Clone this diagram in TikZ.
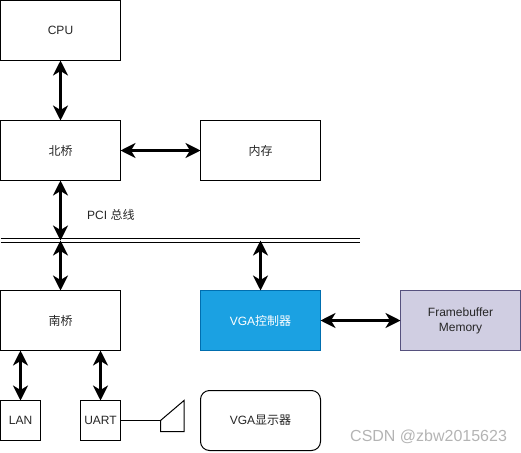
\documentclass[tikz,border=0pt]{standalone}
\usepackage{fontspec}
\usepackage{xcolor}
\setmainfont{Liberation Sans}
\newfontfamily\cjk{Noto Sans CJK SC}
\usetikzlibrary{arrows.meta, positioning}
\definecolor{vgaBlue}{HTML}{1BA1E2}
\definecolor{vgaEdge}{HTML}{006EAF}
\definecolor{fbPurple}{HTML}{D0CEE2}
\definecolor{fbEdge}{HTML}{56517E}
\definecolor{markGray}{HTML}{B4B4B4}

\begin{document}
\begin{tikzpicture}[
  x=1pt, y=-1pt,
  node distance=60pt and 80pt,
  box/.style={rectangle, draw=black, line width=1pt, fill=white, minimum width=120pt, minimum height=60pt, align=center, font=\fontsize{12}{15}\selectfont, text=black!85, outer sep=0pt, inner sep=0pt},
  smallbox/.style={box, minimum width=40pt, minimum height=40pt},
  vgabox/.style={box, draw=vgaEdge, fill=vgaBlue, text=white},
  fbbox/.style={box, draw=fbEdge, fill=fbPurple},
  screenbox/.style={box, rounded corners=9pt},
  arrow/.style={{Stealth[length=15pt, width=15pt, inset=4.5pt]}-{Stealth[length=15pt, width=15pt, inset=4.5pt]}, line width=3pt},
  busline/.style={line width=1pt},
  wire/.style={line width=1pt},
]
\useasboundingbox (0,0) rectangle (521,452);

% Row 1
\node[box] (cpu) at (60.5,30.5) {CPU};

% Row 2
\node[box, below=of cpu] (north) {\cjk 北桥};
\node[box, right=of north] (mem) {\cjk 内存};

% Bus
\coordinate (busa) at (0.5,238.5);
\coordinate (busb) at (360,238.5);
\coordinate (busc) at (0.5,242);
\coordinate (busd) at (360,242);
\coordinate (busmid) at (0,240.5);
\node[anchor=west, font=\fontsize{12}{15}\selectfont, text=black!85, inner sep=0pt] (pcilabel) at (87,215) {PCI {\cjk 总线}};

% Row 3
\node[box, below=110pt of north] (south) {\cjk 南桥};
\node[vgabox, right=of south] (vga) {VGA{\cjk 控制器}};
\node[fbbox, right=of vga] (fb) {Framebuffer\\Memory};

% Row 4
\node[smallbox, below=50pt of south.south west, anchor=north west] (lan) {LAN};
\node[smallbox, right=40pt of lan] (uart) {UART};
\node[screenbox, below=40pt of vga] (screen) {VGA{\cjk 显示器}};

% Monitor
\coordinate (monitor) at (160.5,420.5);
\draw[wire] (monitor) -- ++(23.5,-20) -- ++(0,31) -- ++(-23.5,0) -- cycle;

% Arrows
\draw[arrow] (cpu) -- (north);
\draw[arrow] (north) -- (mem);
\draw[arrow] (north) -- (north|-busmid);
\draw[arrow] (south) -- (south|-busmid);
\draw[arrow] (vga) -- (vga|-busmid);
\draw[arrow] (vga) -- (fb);
\draw[arrow] (lan) -- (lan|-south.south);
\draw[arrow] (uart) -- (uart|-south.south);
\draw[wire] (uart) -- (monitor);
\draw[busline] (busa) -- (busb);
\draw[busline] (busc) -- (busd);

\node[anchor=west, font=\fontsize{16}{18}\selectfont, text=markGray, inner sep=0pt] (mark) at (350,437) {CSDN @zbw2015623};

\end{tikzpicture}
\end{document}
